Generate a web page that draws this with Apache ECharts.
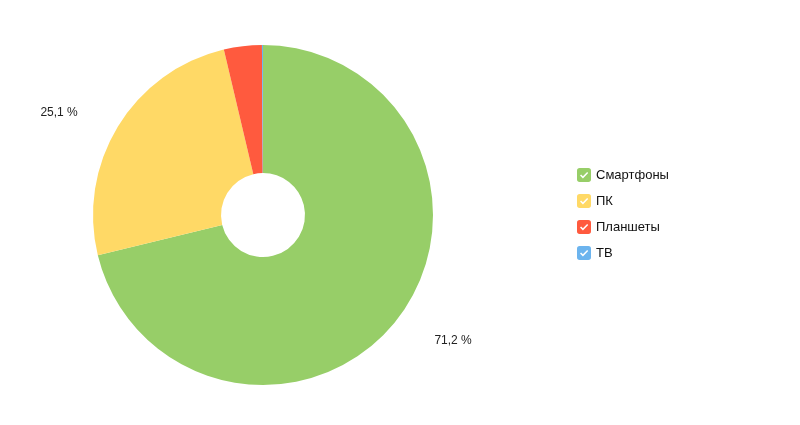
<!DOCTYPE html>
<html>
<head>
<meta charset="utf-8">
<script src="https://cdn.jsdelivr.net/npm/echarts@6/dist/echarts.min.js"></script>
<style>html,body{margin:0;padding:0;background:#fff}#c{width:800px;height:425px}</style>
</head>
<body>
<div id="c"></div>
<script>
const categories = ['Смартфоны', 'ПК', 'Планшеты', 'ТВ'];
const values = [71.2, 25.1, 3.6, 0.1];
const colors = ['#97ce68', '#ffd966', '#ff5a3e', '#6cb4ee'];
const showLabel = [true, true, false, false];

const checkIcon = 'path://M2.5,0 H10.5 Q13,0 13,2.5 V10.5 Q13,13 10.5,13 H2.5 Q0,13 0,10.5 V2.5 Q0,0 2.5,0 Z ' +
  'M2.8,7 L5.5,9.7 L10.4,4.6 L9.4,3.6 L5.5,7.7 L3.8,6 Z';

function labelLineFor(i) {
  // label offsets (layout only)
  return i === 0 ? { show: false, length: 34, length2: 6 } : { show: false, length: 25, length2: 14 };
}

const chart = echarts.init(document.getElementById('c'));
chart.setOption({
  animation: false,
  legend: {
    orient: 'vertical',
    left: 572,
    top: 163,
    itemWidth: 14,
    itemHeight: 14,
    itemGap: 12,
    icon: checkIcon,
    textStyle: { fontFamily: 'Liberation Sans, Arial, sans-serif', fontSize: 13, color: '#111' },
    data: categories
  },
  series: [{
    type: 'pie',
    center: [263, 215],
    radius: [42, 170],
    startAngle: 90,
    clockwise: true,
    avoidLabelOverlap: false,
    label: {
      position: 'outside',
      fontFamily: 'Liberation Sans, Arial, sans-serif',
      fontSize: 12,
      color: '#222',
      formatter: p => p.value.toFixed(1).replace('.', ',') + ' %'
    },
    emphasis: { disabled: true },
    data: categories.map((n, i) => ({
      name: n,
      value: values[i],
      itemStyle: { color: colors[i] },
      label: { show: showLabel[i] },
      labelLine: labelLineFor(i)
    }))
  }]
});
</script>
</body>
</html>
